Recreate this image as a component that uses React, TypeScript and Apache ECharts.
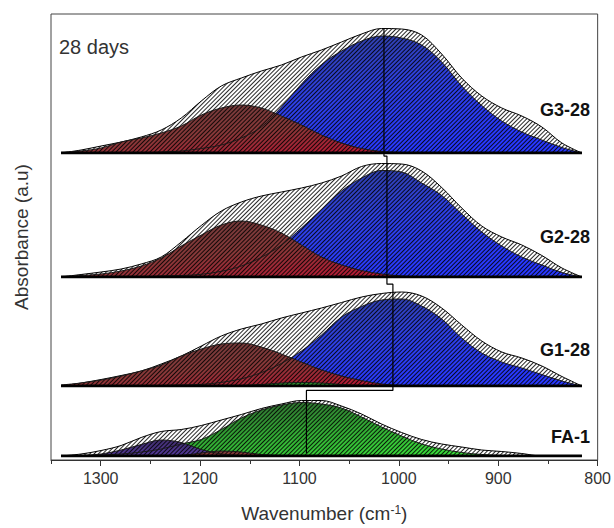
import React, { useEffect, useRef } from 'react';
import * as echarts from 'echarts';

// Wavenumber sampling (cm^-1), left (high) to right (low)
const wavenumbers = [1340, 1320, 1300, 1280, 1260, 1240, 1220, 1200, 1180, 1160, 1140, 1120, 1100, 1080, 1060, 1040, 1020, 1000, 980, 960, 940, 920, 900, 880, 860, 840, 820];

// G3-28
const g3Envelope = [0, 3, 7, 11, 16, 23, 35, 52, 67, 75, 82, 88, 96, 103, 111, 119, 124.5, 124, 118, 99, 75, 57, 45, 37, 26, 10, 0];
const g3Blue = [0, 0, 0, 0, 0, 1, 2, 4.5, 8, 15, 26, 46, 69, 88.5, 102, 112, 117, 115, 108, 91, 67, 47.5, 32, 21, 13, 5.5, 0];
const g3Red = [0.5, 2, 5, 11, 15, 20, 27, 38, 45, 48, 45, 37, 28, 18, 10, 4.5, 1.5, 0.5, 0, 0, 0, 0, 0, 0, 0, 0, 0];

// G2-28
const g2Envelope = [0, 2.5, 5, 8, 13, 20, 35, 51.5, 66, 75, 81, 85, 89, 94, 101, 110.5, 113.5, 113, 106, 89.5, 69, 51, 40, 32, 21.5, 9, 0];
const g2Blue = [0, 0, 0, 0, 0, 1, 1.5, 2.7, 5.7, 11, 19.7, 32, 49, 67.5, 86, 99, 106.5, 105, 94, 81.5, 63, 45, 31, 20, 12, 4.5, 0];
const g2Red = [0.5, 1.5, 3, 6, 11, 19, 31, 42, 52, 56, 52, 44, 32, 20, 12, 6.5, 3, 1, 0, 0, 0, 0, 0, 0, 0, 0, 0];

// G1-28
const g1Envelope = [0, 3, 6.5, 10.5, 15, 22, 30, 40, 50, 57, 62, 68, 73, 78, 83.5, 89, 92.5, 94, 90, 78, 61, 45, 34, 28, 20, 9.5, 0];
const g1Blue = [0, 0, 0, 0, 0, 0.5, 1, 1.6, 3.6, 7.2, 13.4, 22.6, 35, 51, 69, 79.5, 86, 87, 80, 67, 48, 33, 24, 18, 11.5, 5, 0];
const g1Red = [1, 3, 6, 10, 15, 21, 30, 37, 42, 43, 39, 32, 24, 16, 10, 5.5, 2, 0.5, 0, 0, 0, 0, 0, 0, 0, 0, 0];
const g1Green = [0, 0, 0, 0, 0, 0, 0, 0, 0, 0.5, 1.5, 3, 3.5, 3, 1.5, 0.5, 0, 0, 0, 0, 0, 0, 0, 0, 0, 0, 0];

// FA-1
const faEnvelope = [0, 2, 5.5, 10.5, 18.5, 24.5, 26.5, 30.5, 36, 41.5, 47.5, 52, 55.5, 55.5, 50, 42, 32, 23.5, 16.5, 12, 9, 6, 4.5, 2.5, 0, 0, 0];
const faGreen = [0, 0.4, 1, 2, 3.9, 7, 12, 16.5, 26.5, 38, 46, 51, 53.5, 52, 48, 39, 29, 20, 12, 7, 3.5, 1.5, 0.5, 0, 0, 0, 0];
const faPurple = [0, 0.5, 2, 6, 11.5, 16, 13.5, 6.5, 2, 0.5, 0, 0, 0, 0, 0, 0, 0, 0, 0, 0, 0, 0, 0, 0, 0, 0, 0];
const faRed = [0, 0, 0, 0, 0, 0, 0.5, 3, 5, 4, 1.5, 0.5, 0, 0, 0, 0, 0, 0, 0, 0, 0, 0, 0, 0, 0, 0, 0];

// Peak-position trace across the stacked panels
const peakTraceX = [1015, 1015, 1012, 1012, 1006, 1006, 1093, 1093];
const peakTraceY = [435, 306, 306, 177, 177, 70, 70, 7];

const panelLabels = ['G3-28', 'G2-28', 'G1-28', 'FA-1'];
const xTickValues = [1300, 1200, 1100, 1000, 900, 800];

// layout (pixels)
const PLOT_LEFT = 51;
const PLOT_WIDTH = 551;
const PLOT_TOP = 14;
const PLOT_BOTTOM = 463;
const panelTop = [14, 153, 277, 386];
const panelBase = [153, 277, 386, 456];
const labelY = [110, 237, 350, 437];

const FONT = 'Arial, "Liberation Sans", sans-serif';

const HATCH = {
  symbol: 'rect',
  symbolSize: 1,
  dashArrayX: [1, 0],
  dashArrayY: [1, 2],
  rotation: -Math.PI / 4,
  color: 'rgba(0,0,0,0.85)',
};

const grad = (stops: [number, string][], x2 = 1, y2 = 1) => ({
  type: 'linear',
  x: 0,
  y: 0,
  x2,
  y2,
  colorStops: stops.map(([offset, color]) => ({ offset, color })),
});

const WHITE = '#ffffff';
const BLUE = grad([[0, '#2a3366'], [0.3, '#3040b0'], [0.6, '#2e40e6'], [1, '#2838ff']], 0.7, 1);
const RED = grad([[0, '#6a3c3c'], [0.45, '#873838'], [0.75, '#b01c34'], [1, '#d4102c']]);
const GREEN = grad([[0, '#2e4a2e'], [0.5, '#32a834'], [1, '#3cf03c']]);
const PURPLE = grad([[0, '#3d2c66'], [1, '#6040b8']]);

function pairs(ys: number[]) {
  return wavenumbers.map((w, i) => [w, ys[i]]);
}

function area(ys: number[], panel: number, fill: any, z: number, lineColor = '#1a1a1a') {
  return {
    type: 'line',
    xAxisIndex: panel + 2,
    yAxisIndex: panel + 1,
    data: pairs(ys),
    smooth: 0.35,
    showSymbol: false,
    symbol: 'none',
    silent: true,
    z,
    lineStyle: { color: lineColor, width: 1, decal: HATCH },
    itemStyle: { decal: HATCH },
    areaStyle: { color: fill, opacity: 1 },
  };
}

function baseline(panel: number) {
  return {
    type: 'line',
    xAxisIndex: panel + 2,
    yAxisIndex: panel + 1,
    data: [[wavenumbers[0], 0], [wavenumbers[wavenumbers.length - 1], 0]],
    symbol: 'none',
    silent: true,
    z: 6,
    lineStyle: { color: '#000', width: 3 },
  };
}

export default function App() {
  const ref = useRef<HTMLDivElement>(null);

  useEffect(() => {
    if (!ref.current) return;
    const chart = echarts.init(ref.current, null, { renderer: 'svg' });

    const grids: any[] = [
      {
        left: PLOT_LEFT,
        top: PLOT_TOP,
        width: PLOT_WIDTH,
        height: PLOT_BOTTOM - PLOT_TOP,
        show: true,
        borderColor: '#444',
        borderWidth: 1,
        backgroundColor: 'transparent',
      },
      ...panelTop.map((t, i) => ({
        left: PLOT_LEFT,
        top: t,
        width: PLOT_WIDTH,
        height: panelBase[i] - t,
      })),
    ];

    const hiddenX = (gridIndex: number) => ({
      gridIndex,
      type: 'value',
      min: 800,
      max: 1350,
      inverse: true,
      show: false,
    });

    const xAxes: any[] = [
      {
        gridIndex: 0,
        type: 'value',
        min: 800,
        max: 1350,
        interval: 100,
        inverse: true,
        position: 'bottom',
        axisLine: { show: true, lineStyle: { color: '#333', width: 1 } },
        axisTick: { show: true, length: 6, lineStyle: { color: '#333' } },
        axisLabel: {
          show: true,
          showMaxLabel: false,
          fontSize: 16,
          color: '#333',
          fontFamily: FONT,
          margin: 10,
          formatter: (v: number) => (xTickValues.includes(v) ? String(v) : ''),
        },
        splitLine: { show: false },
        name: '{t|Wavenumber (cm}{s|-1}{t|)}',
        nameLocation: 'middle',
        nameGap: 44,
        nameTextStyle: {
          rich: {
            t: { fontSize: 19, color: '#333', fontFamily: FONT },
            s: { fontSize: 12, color: '#333', fontFamily: FONT, verticalAlign: 'top' },
          },
        },
      },
      {
        gridIndex: 0,
        type: 'value',
        min: 800,
        max: 1350,
        interval: 50,
        inverse: true,
        position: 'bottom',
        axisLine: { show: false },
        axisTick: { show: true, length: 4, lineStyle: { color: '#333' } },
        axisLabel: { show: false },
        splitLine: { show: false },
      },
      ...panelTop.map((_, i) => hiddenX(i + 1)),
    ];

    const yAxes: any[] = [
      {
        gridIndex: 0,
        type: 'value',
        min: 0,
        max: PLOT_BOTTOM - PLOT_TOP,
        axisLine: { show: false },
        axisTick: { show: false },
        axisLabel: { show: false },
        splitLine: { show: false },
        name: 'Absorbance (a.u)',
        nameLocation: 'middle',
        nameGap: 20,
        nameTextStyle: { fontSize: 19, color: '#333', fontFamily: FONT },
      },
      ...panelTop.map((t, i) => ({
        gridIndex: i + 1,
        type: 'value',
        min: 0,
        max: panelBase[i] - t,
        show: false,
      })),
    ];

    const series: any[] = [
      // G3
      area(g3Envelope, 0, WHITE, 2, '#000'),
      area(g3Blue, 0, BLUE, 3),
      area(g3Red, 0, RED, 3),
      baseline(0),
      // G2
      area(g2Envelope, 1, WHITE, 2, '#000'),
      area(g2Blue, 1, BLUE, 3),
      area(g2Red, 1, RED, 3),
      baseline(1),
      // G1
      area(g1Envelope, 2, WHITE, 2, '#000'),
      area(g1Blue, 2, BLUE, 3),
      area(g1Red, 2, RED, 3),
      area(g1Green, 2, GREEN, 3),
      baseline(2),
      // FA
      area(faEnvelope, 3, WHITE, 2, '#000'),
      area(faGreen, 3, GREEN, 3),
      area(faPurple, 3, PURPLE, 3),
      area(faRed, 3, RED, 3),
      baseline(3),
      // peak trace
      {
        type: 'line',
        xAxisIndex: 0,
        yAxisIndex: 0,
        data: peakTraceX.map((x, i) => [x, peakTraceY[i]]),
        symbol: 'none',
        silent: true,
        z: 10,
        lineStyle: { color: '#000', width: 1.2 },
      },
    ];

    chart.setOption({
      animation: false,
      backgroundColor: '#fff',
      grid: grids,
      xAxis: xAxes,
      yAxis: yAxes,
      series,
      graphic: [
        {
          type: 'text',
          x: 59,
          y: 47,
          z: 100,
          style: { text: '28 days', fontSize: 20, fontFamily: FONT, fill: '#333', verticalAlign: 'middle' },
        },
        ...panelLabels.map((t, i) => ({
          type: 'text',
          x: 590,
          y: labelY[i],
          z: 100,
          style: {
            text: t,
            fontSize: 18,
            fontWeight: 'bold',
            fontFamily: FONT,
            fill: '#111',
            align: 'right',
            verticalAlign: 'middle',
          },
        })),
      ],
    });

    return () => chart.dispose();
  }, []);

  return (
    <div
      ref={ref}
      style={{ position: 'fixed', left: 0, top: 0, width: 614, height: 528, background: '#fff' }}
    />
  );
}
